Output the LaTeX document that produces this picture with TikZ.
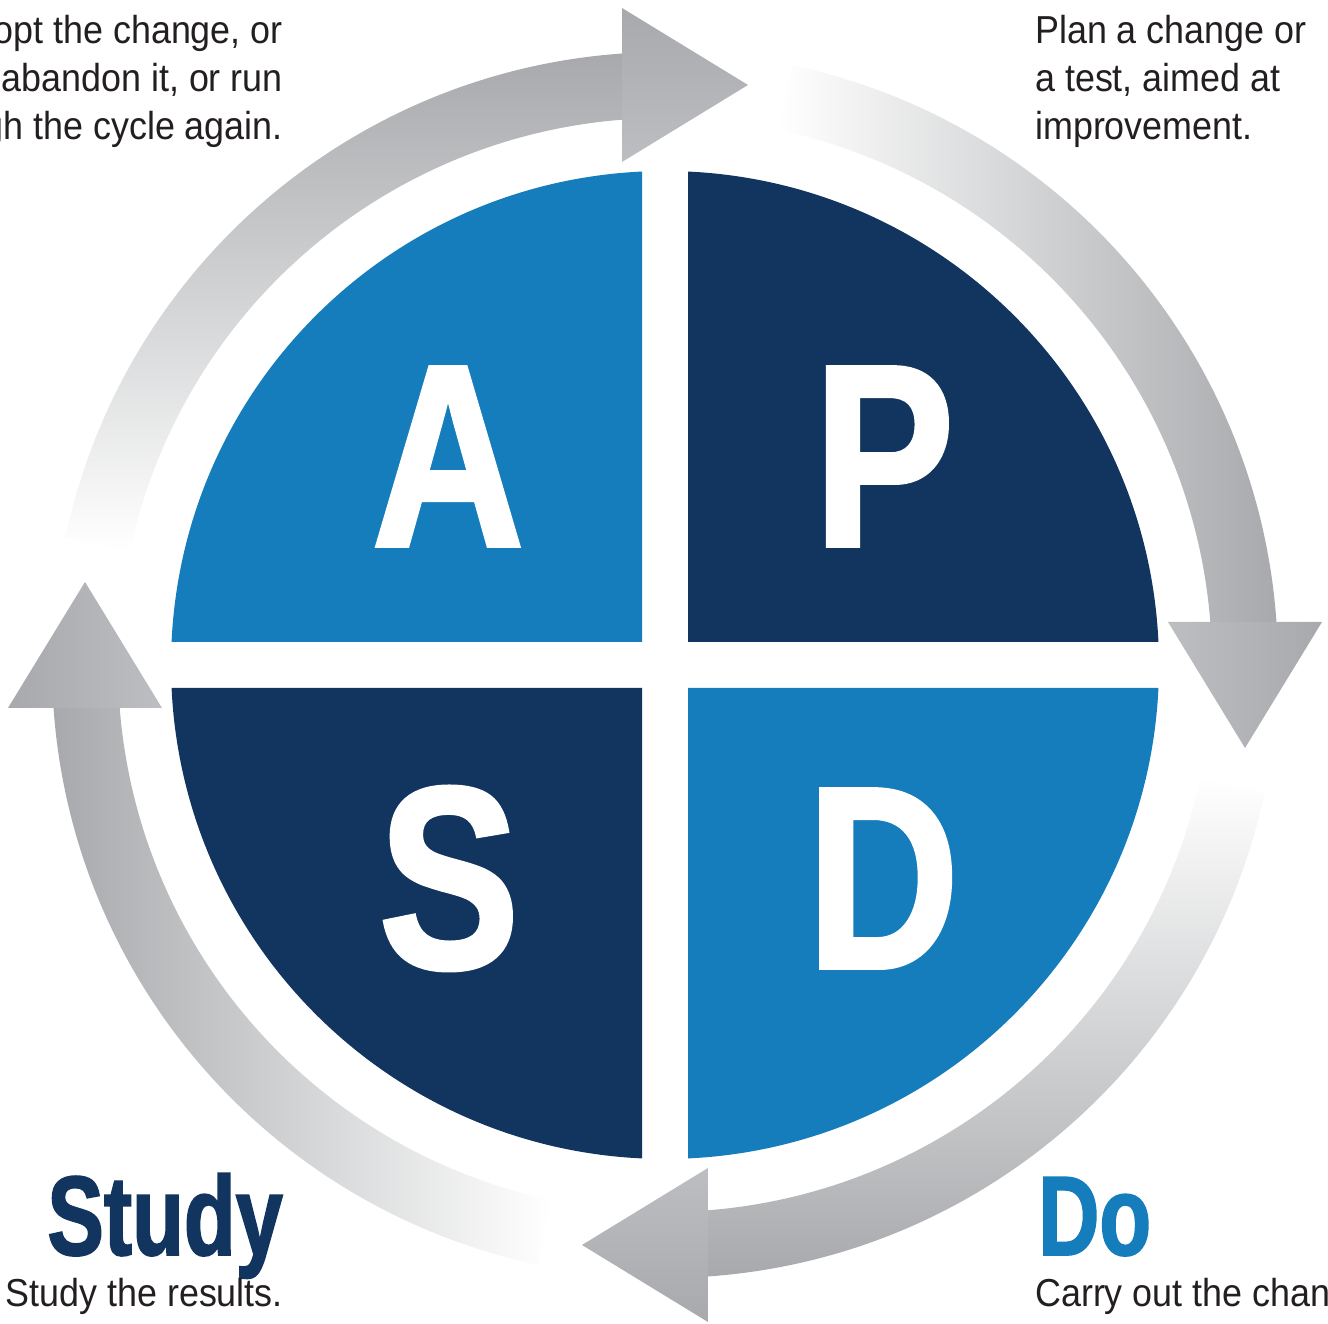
\documentclass[tikz,border=0pt]{standalone}
\usepackage{fontspec}
\setmainfont{Liberation Sans}
\newfontfamily\bodyfont{Liberation Sans}[FakeStretch=0.92]
\newfontfamily\headfont{Liberation Sans}[FakeStretch=0.75, FakeBold=1.5]
\newfontfamily\letterfont{Liberation Sans}[FakeStretch=0.81, FakeBold=1.5]
\definecolor{pdsalight}{HTML}{157DBC}
\definecolor{pdsadark}{HTML}{12355F}
\definecolor{arcgray}{HTML}{A7A9AC}
\definecolor{headdark}{HTML}{A8A9AD}
\definecolor{headlight}{HTML}{BDBEC1}
\definecolor{txt}{HTML}{231F20}
\begin{document}
\begin{tikzpicture}[x=1pt,y=1pt,
  bodytext/.style={inner sep=0pt, font=\bodyfont\fontsize{39}{48}\selectfont, text=txt},
  headtext/.style={inner sep=0pt, font=\headfont\bfseries\fontsize{113}{113}\selectfont},
  bigletter/.style={inner sep=0pt, text=white, font=\letterfont\bfseries\fontsize{260}{260}\selectfont, anchor=base},
]
\useasboundingbox (0,0) rectangle (1328,1324);
\clip (0,0) rectangle (1328,1324);
\fill[white] (0,0) rectangle (1328,1324);

\begin{scope}[shift={(665,659)}]
  % quadrants
  \fill[pdsadark]  (23,23)   -- (87.33:494)  arc[start angle=87.33, end angle=2.67, radius=494] -- cycle;
  \fill[pdsalight] (-23,23)  -- (177.33:494) arc[start angle=177.33, end angle=92.67, radius=494] -- cycle;
  \fill[pdsadark]  (-23,-23) -- (267.33:494) arc[start angle=267.33, end angle=182.67, radius=494] -- cycle;
  \fill[pdsalight] (23,-23)  -- (357.33:494) arc[start angle=357.33, end angle=272.67, radius=494] -- cycle;

  % arrow Act -> Plan (top)
  \shade[top color=arcgray, bottom color=white] (168:613) arc[start angle=168,end angle=93.5,radius=613] -- (93.88:547) arc[start angle=93.88,end angle=168,radius=547] -- cycle;
  \shade[top color=headdark, bottom color=headlight] (-43,657) -- (83,580) -- (-43,503) -- cycle;

  % arrow Plan -> Do (right)
  \shade[left color=white, right color=arcgray] (78:613) arc[start angle=78,end angle=3.5,radius=613] -- (3.88:547) arc[start angle=3.88,end angle=78,radius=547] -- cycle;
  \shade[left color=headlight, right color=headdark] (657,43) -- (580,-83) -- (503,43) -- cycle;

  % arrow Do -> Study (bottom)
  \shade[top color=white, bottom color=arcgray] (-12:613) arc[start angle=-12,end angle=-86.5,radius=613] -- (-86.12:547) arc[start angle=-86.12,end angle=-12,radius=547] -- cycle;
  \shade[top color=headlight, bottom color=headdark] (43,-657) -- (-83,-580) -- (43,-503) -- cycle;

  % arrow Study -> Act (left)
  \shade[left color=arcgray, right color=white] (258:613) arc[start angle=258,end angle=183.5,radius=613] -- (183.88:547) arc[start angle=183.88,end angle=258,radius=547] -- cycle;
  \shade[left color=headdark, right color=headlight] (-657,-43) -- (-580,83) -- (-503,-43) -- cycle;
\end{scope}

% quadrant letters
\node[bigletter] (lA) at (448,778) {A};
\node[bigletter] (lP) at (884,778) {P};
\node[bigletter] (lS) at (449,356) {S};
\node[bigletter] (lD) at (883,356) {D};

% Act text (top left, clipped)
\node[bodytext, anchor=base east] (act1) at (283,1280) {Adopt the change, or};
\node[bodytext, anchor=base east] (act2) at (283,1232) {abandon it, or run};
\node[bodytext, anchor=base east] (act3) at (283,1184) {through the cycle again.};

% Plan text (top right)
\node[bodytext, anchor=base west] (plan1) at (1035,1280) {Plan a change or};
\node[bodytext, anchor=base west] (plan2) at (1035,1232) {a test, aimed at};
\node[bodytext, anchor=base west] (plan3) at (1035,1184) {improvement.};

% Study (bottom left)
\node[headtext, text=pdsadark, anchor=base east] (study) at (283,69) {Study};
\node[bodytext, anchor=base east] (studytxt) at (283,17) {Study the results.};

% Do (bottom right)
\node[headtext, text=pdsalight, anchor=base west] (do) at (1038,69) {Do};
\node[bodytext, anchor=base west] (dotxt) at (1035,17) {Carry out the change.};
\end{tikzpicture}
\end{document}
